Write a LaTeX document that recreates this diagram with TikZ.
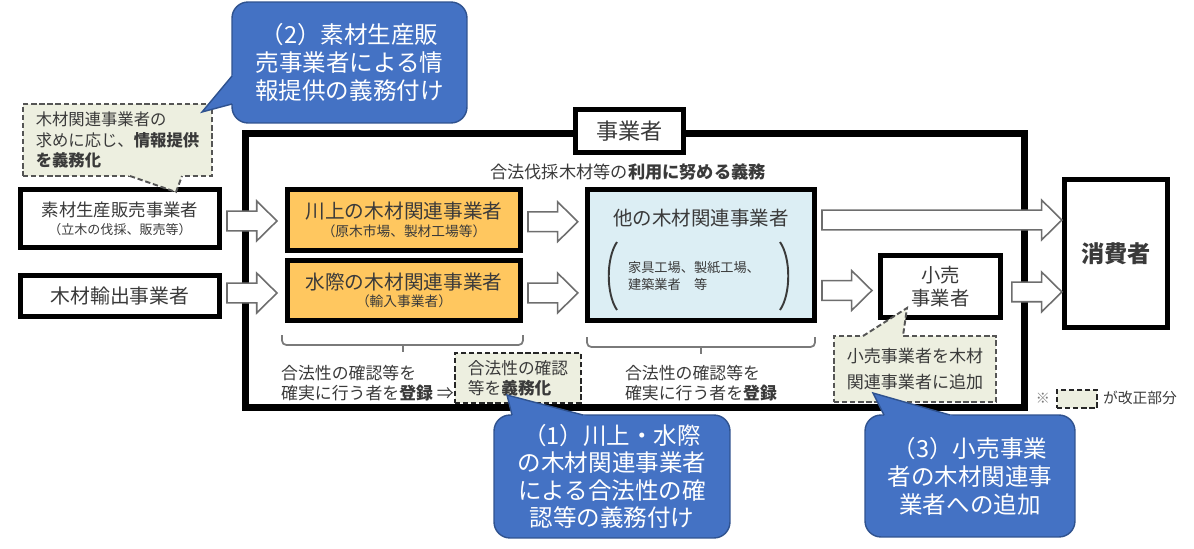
\documentclass[tikz,border=0pt]{standalone}
\usepackage{fontspec}
\setmainfont{Noto Sans CJK JP}
\usetikzlibrary{calc}
\definecolor{txtgray}{HTML}{3A3A3A}
\definecolor{orangefill}{HTML}{FFC75F}
\definecolor{bluefill}{HTML}{DCEEF4}
\definecolor{notefill}{HTML}{EDEFE0}
\definecolor{notegray}{HTML}{555555}
\definecolor{callblue}{HTML}{4472C4}
\definecolor{calledge}{HTML}{2F528F}
\definecolor{arrgray}{HTML}{6E6E6E}
\definecolor{bracegray}{HTML}{7A7A7A}
\newcommand\setfs[2]{\fontsize{#1}{#2}\selectfont}
\tikzset{
  blackbox/.style={draw=black,line width=3pt,align=center,text=txtgray,inner sep=0pt},
  woodbox/.style={blackbox,fill=orangefill,minimum width=4.66cm,minimum height=1.21cm,font=\setfs{11.2}{10}},
  notedash/.style={draw=notegray,line width=1.1pt,dash pattern=on 3pt off 1.6pt},
  notebox/.style={notedash,fill=notefill,align=left,text=txtgray,inner sep=0pt},
  callbox/.style={fill=callblue,draw=calledge,line width=0.8pt,rounded corners=0.32cm,text=white,align=center,inner sep=0pt,font=\setfs{13.4}{15.9}},
  fat/.style={draw=arrgray,fill=white,line width=0.9pt,
    to path={let \p1=(\tikztostart),\p2=(\tikztotarget) in
      (\x1,\y1+5.6pt) -- (\x2-11.5pt,\y1+5.6pt) -- (\x2-11.5pt,\y1+11.3pt) -- (\x2,\y1)
      -- (\x2-11.5pt,\y1-11.3pt) -- (\x2-11.5pt,\y1-5.6pt) -- (\x1,\y1-5.6pt) -- cycle}},
  bracketline/.style={draw=bracegray,line width=1pt,rounded corners=2.5pt}
}
\begin{document}
\begin{tikzpicture}[x=0.02cm,y=-0.02cm]
\useasboundingbox (0,0) rectangle (1194,548);
\node[blackbox,line width=3.8pt,minimum width=15.59cm,minimum height=5.49cm] (frame) at (635,270.5) {};
\node[blackbox,fill=white,minimum width=2.16cm,minimum height=0.86cm,font=\setfs{12.6}{14}] (actor) at (629.5,131) {事業者};
\node[text=txtgray,font=\setfs{9.8}{11}] (goal) at (628,172) {合法伐採木材等の\textbf{利用に努める義務}};

\node[blackbox,minimum width=3.98cm,minimum height=1.16cm,font=\setfs{9.9}{10.4}] (sozai) at (120,218.5) {素材生産販売事業者\\{\setfs{7.4}{10.4}（立木の伐採、販売等）}};
\node[blackbox,minimum width=3.98cm,minimum height=0.82cm,font=\setfs{11.3}{12}] (yushutsu) at (120,296) {木材輸出事業者};
\node[woodbox] (kawakami) at (404,220) {川上の木材関連事業者\\{\setfs{7.8}{10}（原木市場、製材工場等）}};
\node[woodbox] (mizugiwa) at (404,290.5) {水際の木材関連事業者\\{\setfs{7.8}{10}（輸入事業者）}};
\node[blackbox,fill=bluefill,minimum width=4.54cm,minimum height=2.62cm] (hoka) at (701,255) {};
\node[text=txtgray,font=\setfs{11.1}{12}] (hokatitle) at (701,218) {他の木材関連事業者};
\node[text=txtgray,align=left,font=\setfs{7.5}{10.2}] (hokalist) at (694,276) {家具工場、製紙工場、\\建築業者　等};
\draw[txtgray,line width=1.1pt] (617,242) .. controls (606,258) and (606,294) .. (617,310);
\draw[txtgray,line width=1.1pt] (780,242) .. controls (791,258) and (791,294) .. (780,310);
\node[blackbox,minimum width=2.4cm,minimum height=1.24cm,font=\setfs{11}{13}] (kouri) at (940.5,286.5) {小売\\事業者};
\node[blackbox,minimum width=2.06cm,minimum height=2.96cm,font=\setfs{13.2}{14}\bfseries] (shohi) at (1116,253.5) {消費者};

\draw[fat] ($(sozai.east)+(2.8pt,-1.4pt)$) to ($(kawakami.west)+(-4.5pt,0)$);
\draw[fat] ($(yushutsu.east)+(2.8pt,1.7pt)$) to ($(mizugiwa.west)+(-4.5pt,0)$);
\draw[fat] ($(kawakami.east)+(2.8pt,-1pt)$) to ($(hoka.west)+(-4pt,0)$);
\draw[fat] ($(mizugiwa.east)+(2.8pt,-1.4pt)$) to ($(hoka.west)+(-4pt,0)$);
\draw[fat] ($(hoka.east |- kawakami.east)+(2.8pt,0)$) to (shohi.west);
\draw[fat] ($(hoka.east |- mizugiwa.east)+(2.8pt,0)$) to ($(kouri.west)+(-3.4pt,0)$);
\draw[fat] ($(kouri.east)+(5pt,-3.1pt)$) to (shohi.west);

\draw[bracketline] (282,335) |- (523,345) -- (523,335);
\draw[bracketline] (403,345) -- (403,352);
\draw[bracketline] (587,337) |- (815,347) -- (815,337);
\draw[bracketline] (701,347) -- (701,354);
\node[anchor=west,text=txtgray,align=left,font=\setfs{9.6}{11.3}] (reg1) at (275,383) {合法性の確認等を\\確実に行う者を\textbf{登録} ⇒};
\node[text=txtgray,align=left,font=\setfs{9.6}{11.3}] (reg2) at (701,383) {合法性の確認等を\\確実に行う者を\textbf{登録}};
\node[notebox,draw=black!85,minimum width=2.52cm,minimum height=1cm,font=\setfs{9.5}{11.3}] (note1) at (518,378) {合法性の確認\\等を\textbf{義務化}};

\node[notebox,minimum width=3.78cm,minimum height=1.44cm,font=\setfs{9.3}{11.9}] (note2) at (117.5,140) {木材関連事業者の\\求めに応じ、\textbf{情報提供}\\\textbf{を義務化}};
\coordinate (tipn2) at (176,192);
\coordinate (n2a) at (130,176);
\coordinate (n2b) at (182,176);
\fill[notefill] ($(n2a)!-0.3!(tipn2)$) -- (tipn2) -- ($(n2b)!-0.3!(tipn2)$) -- cycle;
\draw[notedash] (n2a) -- (tipn2) -- (n2b);

\node[notebox,minimum width=3.24cm,minimum height=1.32cm,font=\setfs{9.7}{15.3}] (note3) at (915,369) {小売事業者を木材\\関連事業者に追加};
\coordinate (tipn3) at (907,308);
\coordinate (n3a) at (863,336);
\coordinate (n3b) at (903,336);
\fill[notefill] ($(n3a)!-0.3!(tipn3)$) -- (tipn3) -- ($(n3b)!-0.3!(tipn3)$) -- cycle;
\draw[notedash] (n3a) -- (tipn3) -- (n3b);

\node[text=bracegray,font=\setfs{8}{9}] (legmark) at (1043,398) {※};
\node[notebox,draw=black!85,minimum width=0.8cm,minimum height=0.36cm] (legbox) at (1077,399) {};
\node[text=txtgray,font=\setfs{8.4}{9}] (legtext) at (1140,398) {が改正部分};

\node[callbox,minimum width=4.7cm,minimum height=2.42cm] (call2) at (349.5,62.5) {（2）素材生産販\\売事業者による情\\報提供の義務付け};
\coordinate (tipc2) at (202,112);
\coordinate (c2a) at (232,76);
\coordinate (c2b) at (232,104);
\fill[callblue] ($(c2a)!-0.3!(tipc2)$) -- (tipc2) -- ($(c2b)!-0.3!(tipc2)$) -- cycle;
\draw[calledge,line width=0.8pt] (c2a) -- (tipc2) -- (c2b);

\node[callbox,minimum width=4.72cm,minimum height=2.46cm,font=\setfs{13.4}{15.6}] (call1) at (612,476.5) {（1）川上・水際\\の木材関連事業者\\による合法性の確\\認等の義務付け};
\coordinate (tipc1) at (507,395);
\coordinate (c1a) at (512,415);
\coordinate (c1b) at (583,415);
\fill[callblue] ($(c1a)!-0.3!(tipc1)$) -- (tipc1) -- ($(c1b)!-0.3!(tipc1)$) -- cycle;
\draw[calledge,line width=0.8pt] (c1a) -- (tipc1) -- (c1b);

\node[callbox,minimum width=4.2cm,minimum height=2.44cm] (call3) at (970,476) {（3）小売事業\\者の木材関連事\\業者への追加};
\coordinate (tipc3) at (873,393);
\coordinate (c3a) at (884,415);
\coordinate (c3b) at (950,415);
\fill[callblue] ($(c3a)!-0.3!(tipc3)$) -- (tipc3) -- ($(c3b)!-0.3!(tipc3)$) -- cycle;
\draw[calledge,line width=0.8pt] (c3a) -- (tipc3) -- (c3b);
\end{tikzpicture}
\end{document}
